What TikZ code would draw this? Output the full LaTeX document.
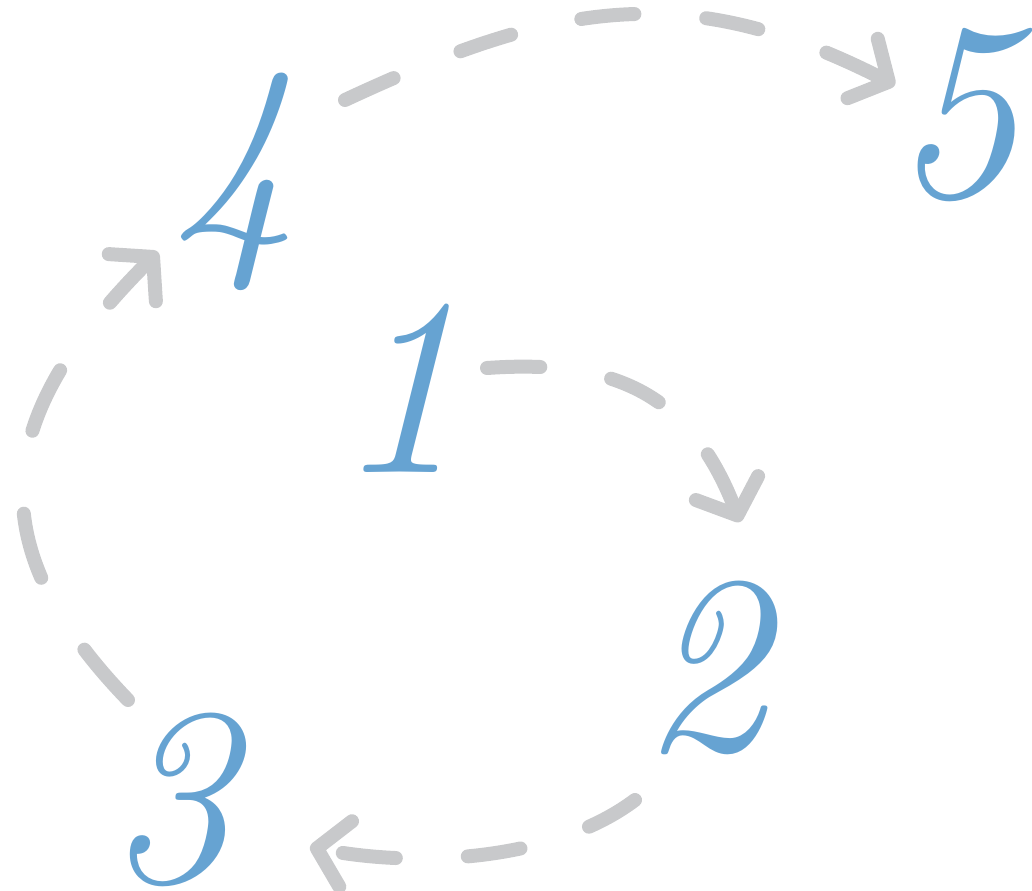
\documentclass[tikz,border=0pt]{standalone}
\usepackage{tikz}
\usetikzlibrary{arrows.meta}
\definecolor{colDigit}{RGB}{102,163,210}
\definecolor{colLink}{RGB}{200,201,203}

\begin{document}
\begin{tikzpicture}[
  x=0.75pt, y=0.75pt,
  digit/.style={inner sep=0pt, text=colDigit, font=\fontsize{190}{190}\selectfont\itshape},
  link/.style={draw=colLink, line width=10.5pt, line cap=round,
               dash pattern=on 40pt off 54pt,
               -{Straight Barb[round, length=22pt, width=50pt]}},
  longdash/.style={dash pattern=on 50pt off 63pt},
]
\useasboundingbox (0,0) rectangle (1032,890);

\node[digit] (one)   at (398,502) {1};
\node[digit] (two)   at (704,222) {2};
\node[digit] (three) at (170,90)  {3};
\node[digit] (four)  at (234,708) {4};
\node[digit] (five)  at (955,775) {5};

\draw[link] ([shift={(89,20)}]one.center)
  to[out=4, in=111, out distance=92pt, in distance=106pt] ([shift={(36,146)}]two.center);
\draw[link] ([shift={(-69,-132)}]two.center)
  to[out=217, in=349, out distance=75pt, in distance=84pt] ([shift={(140,-47)}]three.center);
\draw[link, longdash] ([shift={(-42,100)}]three.center)
  to[out=134, in=225, out distance=168pt, in distance=170pt] ([shift={(-76,-70)}]four.center);
\draw[link] ([shift={(111,82)}]four.center)
  to[out=25, in=153, out distance=175pt, in distance=176pt] ([shift={(-60,30)}]five.center);

\end{tikzpicture}
\end{document}
